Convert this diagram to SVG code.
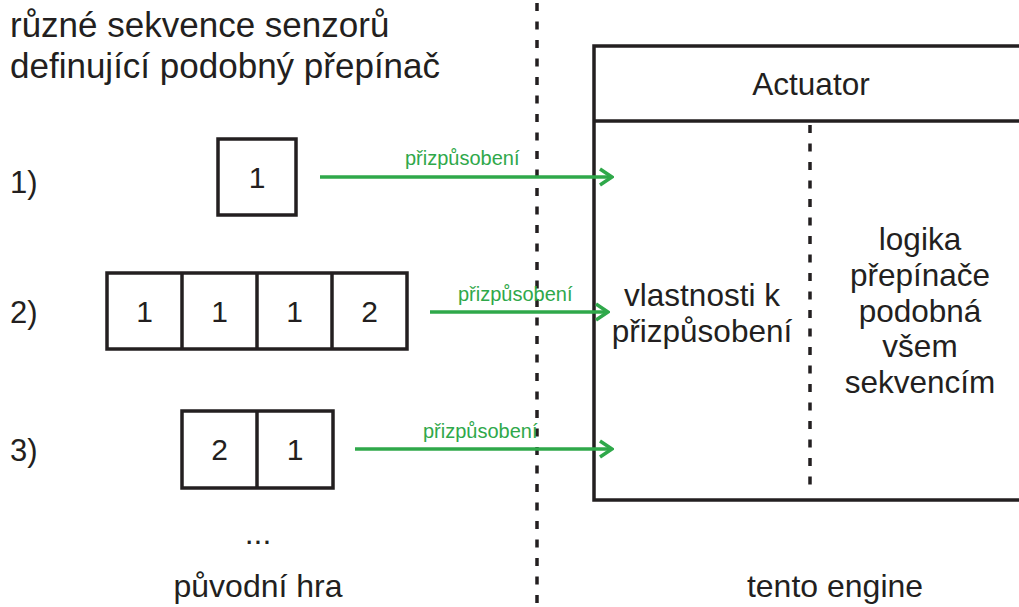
<svg xmlns="http://www.w3.org/2000/svg" width="1019" height="607" viewBox="0 0 1019 607">
<style>
  text { font-family: "Liberation Sans", Arial, sans-serif; fill: #231f20; }
  .title { font-size: 35px; }
  .lbl { font-size: 31px; }
  .big { font-size: 31.5px; text-anchor: middle; }
  .cell { font-size: 30px; text-anchor: middle; }
  .bot { font-size: 32px; text-anchor: middle; }
  .box { fill: #fff; stroke: #231f20; stroke-width: 3.5; }
  .div { stroke: #231f20; stroke-width: 3.5; fill: none; }
  .dash { stroke: #231f20; stroke-width: 3.5; stroke-dasharray: 8 10.5; fill: none; }
  .conn { stroke: #2fa84a; stroke-width: 3.5; fill: none; }
  .green { font-size: 20px; fill: #2fa84a; }
</style>
<defs>
  <marker id="arr" markerWidth="16" markerHeight="20" refX="14" refY="10" orient="auto" markerUnits="userSpaceOnUse">
    <path d="M2,2 L14,10 L2,18" fill="none" stroke="#2fa84a" stroke-width="3.5"/>
  </marker>
</defs>
<rect width="1019" height="607" fill="#fff"/>

<g id="divider">
  <line class="dash" x1="537" y1="3" x2="537" y2="607"/>
</g>

<g id="title">
  <text class="title" x="10" y="37">různé sekvence senzorů</text>
  <text class="title" x="10" y="78">definující podobný přepínač</text>
</g>

<g id="actuator">
  <rect class="box" x="594" y="46" width="440" height="454"/>
  <line class="div" x1="594" y1="121" x2="1030" y2="121"/>
  <line class="dash" x1="810" y1="125" x2="810" y2="495"/>
  <text class="big" x="811" y="95">Actuator</text>
  <text class="big" x="702" y="306">vlastnosti k</text>
  <text class="big" x="702" y="342">přizpůsobení</text>
  <text class="big" x="920" y="250">logika</text>
  <text class="big" x="920" y="286">přepínače</text>
  <text class="big" x="920" y="322">podobná</text>
  <text class="big" x="920" y="357">všem</text>
  <text class="big" x="920" y="393">sekvencím</text>
</g>

<g id="seq1">
  <text class="lbl" x="10" y="193">1)</text>
  <rect class="box" x="218" y="139" width="78" height="76"/>
  <text class="cell" x="257" y="188">1</text>
</g>

<g id="seq2">
  <text class="lbl" x="10" y="323">2)</text>
  <rect class="box" x="107" y="273" width="300" height="76"/>
  <line class="div" x1="182" y1="273" x2="182" y2="349"/>
  <line class="div" x1="257" y1="273" x2="257" y2="349"/>
  <line class="div" x1="332" y1="273" x2="332" y2="349"/>
  <text class="cell" x="144.5" y="322">1</text>
  <text class="cell" x="219.5" y="322">1</text>
  <text class="cell" x="294.5" y="322">1</text>
  <text class="cell" x="369.5" y="322">2</text>
</g>

<g id="seq3">
  <text class="lbl" x="10" y="461">3)</text>
  <rect class="box" x="182" y="411" width="151" height="77"/>
  <line class="div" x1="257" y1="411" x2="257" y2="488"/>
  <text class="cell" x="219.5" y="460">2</text>
  <text class="cell" x="295" y="460">1</text>
</g>

<g id="bottom">
  <text class="bot" x="258" y="544">...</text>
  <text class="bot" x="258" y="597">původní hra</text>
  <text class="bot" x="835" y="597">tento engine</text>
</g>

<g id="connectors">
  <line class="conn" x1="320" y1="177" x2="612" y2="177" marker-end="url(#arr)"/>
  <text class="green" x="405" y="165">přizpůsobení</text>
  <line class="conn" x1="430" y1="312" x2="608" y2="312" marker-end="url(#arr)"/>
  <text class="green" x="458" y="301">přizpůsobení</text>
  <line class="conn" x1="355" y1="449" x2="612" y2="449" marker-end="url(#arr)"/>
  <text class="green" x="423" y="438">přizpůsobení</text>
</g>
</svg>
